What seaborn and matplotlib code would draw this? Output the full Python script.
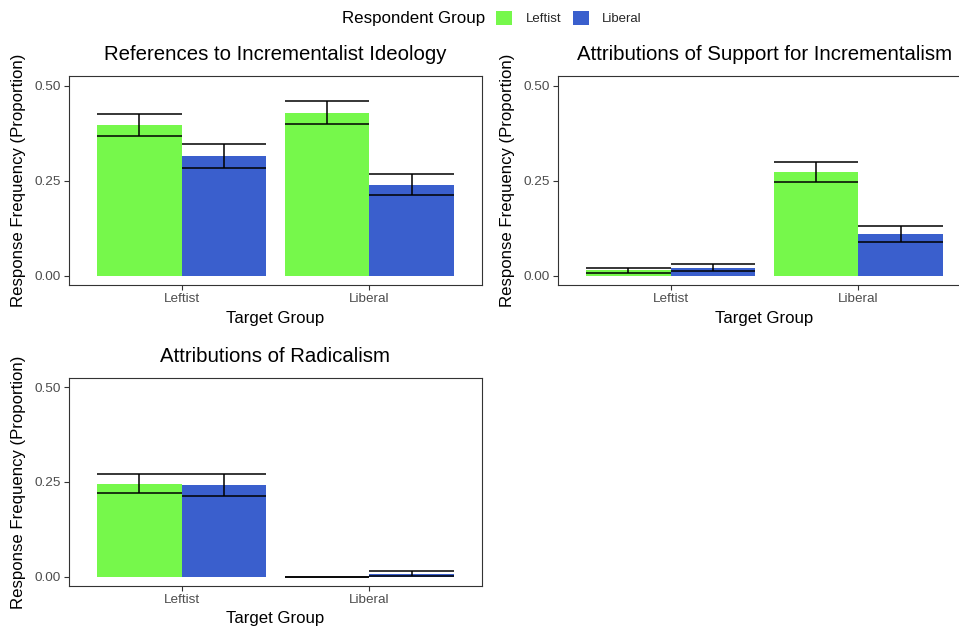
import matplotlib
matplotlib.use("Agg")
import matplotlib.pyplot as plt
import matplotlib.patches as mpatches
import numpy as np
import pandas as pd
import seaborn as sns

sns.set_theme(style="white")
plt.rcParams["font.family"] = ["Liberation Sans", "DejaVu Sans"]

# ---- data -------------------------------------------------------------
target_groups = ["Leftist", "Liberal"]
respondent_groups = ["Leftist", "Liberal"]

panel_titles = [
    "References to Incrementalist Ideology",
    "Attributions of Support for Incrementalism",
    "Attributions of Radicalism",
]

# proportions per panel: rows = target group, cols = respondent group
ref_ideology = [[0.396, 0.315], [0.428, 0.238]]
ref_ideology_lo = [[0.366, 0.284], [0.398, 0.211]]
ref_ideology_hi = [[0.425, 0.346], [0.458, 0.266]]

support_incr = [[0.014, 0.020], [0.272, 0.110]]
support_incr_lo = [[0.007, 0.011], [0.245, 0.089]]
support_incr_hi = [[0.021, 0.031], [0.298, 0.131]]

radicalism = [[0.245, 0.242], [0.000, 0.007]]
radicalism_lo = [[0.221, 0.214], [0.000, 0.002]]
radicalism_hi = [[0.272, 0.270], [0.000, 0.014]]

y_ticks = [0.00, 0.25, 0.50]
y_tick_labels = ["0.00", "0.25", "0.50"]

palette = {"Leftist": "#76F84B", "Liberal": "#3A5FCD"}


def to_frame(mean, lo, hi):
    rows = []
    for i, tg in enumerate(target_groups):
        for j, rg in enumerate(respondent_groups):
            rows.append(dict(target=tg, resp=rg, prop=mean[i][j],
                             lo=lo[i][j], hi=hi[i][j]))
    return pd.DataFrame(rows)


panels = [
    to_frame(ref_ideology, ref_ideology_lo, ref_ideology_hi),
    to_frame(support_incr, support_incr_lo, support_incr_hi),
    to_frame(radicalism, radicalism_lo, radicalism_hi),
]

# ---- layout (pixel boxes: left, top, right, bottom) -------------------
W, H = 959, 629
boxes = [
    (69, 76, 482, 285),
    (558, 76, 971, 285),
    (69, 378, 482, 586),
]

fig = plt.figure(figsize=(W / 100, H / 100), dpi=100)
fig.patch.set_facecolor("white")

border_col = "#333333"
tick_col = "#4D4D4D"

for df, title, (l, t, r, b) in zip(panels, panel_titles, boxes):
    ax = fig.add_axes([l / W, 1 - b / H, (r - l) / W, (b - t) / H])
    sns.barplot(data=df, x="target", y="prop", hue="resp",
                order=target_groups, hue_order=respondent_groups,
                palette=palette, width=0.9, gap=0, errorbar=None,
                saturation=1, linewidth=0, legend=False, ax=ax)

    # error bars spanning each bar's width
    for container, rg in zip(ax.containers, respondent_groups):
        sub = df[df.resp == rg].set_index("target").loc[target_groups]
        for patch, (_, row) in zip(container.patches, sub.iterrows()):
            x0 = patch.get_x()
            w = patch.get_width()
            xc = x0 + w / 2
            ax.hlines([row.lo, row.hi], x0, x0 + w, color="black",
                      lw=1.1, zorder=3)
            ax.vlines(xc, row.lo, row.hi, color="black", lw=1.1, zorder=3)

    ax.set_xlim(-0.6, 1.6)
    ax.set_ylim(-0.025, 0.525)
    ax.set_yticks(y_ticks)
    ax.set_yticklabels(y_tick_labels)
    ax.tick_params(axis="both", which="major", length=3.5, width=0.8,
                   color=border_col, labelcolor=tick_col, labelsize=9.7,
                   pad=2.5, left=True, bottom=True)
    for s in ax.spines.values():
        s.set_visible(True)
        s.set_color(border_col)
        s.set_linewidth(0.8)
    ax.grid(False)

    ph = b - t
    pw = r - l
    ax.set_xlabel("Target Group", fontsize=12.1, color="black", va="center")
    ax.xaxis.set_label_coords(0.5, -(318 - 285) / ph)
    ax.set_ylabel("Response Frequency (Proportion)", fontsize=12.1,
                  color="black", va="center")
    ax.yaxis.set_label_coords(-(69 - 18.5) / pw, 0.5)
    ax.set_title(title, fontsize=14.7, color="black", va="center",
                 y=1 + 21.5 / ph, pad=0)

# ---- legend -----------------------------------------------------------
fig.text(342 / W, 1 - 18 / H, "Respondent Group", fontsize=12.2,
         ha="left", va="center", color="black")
handles = [mpatches.Patch(facecolor=palette[g], edgecolor="none")
           for g in respondent_groups]
fig.legend(handles, respondent_groups, loc="center left",
           bbox_to_anchor=(496 / W, 1 - 18 / H), ncol=2, frameon=False,
           fontsize=9.5, handlelength=1.25, handleheight=1.25,
           handletextpad=1.0, columnspacing=0.85, borderpad=0,
           borderaxespad=0)

fig.savefig("out.png", dpi=100, facecolor="white")
